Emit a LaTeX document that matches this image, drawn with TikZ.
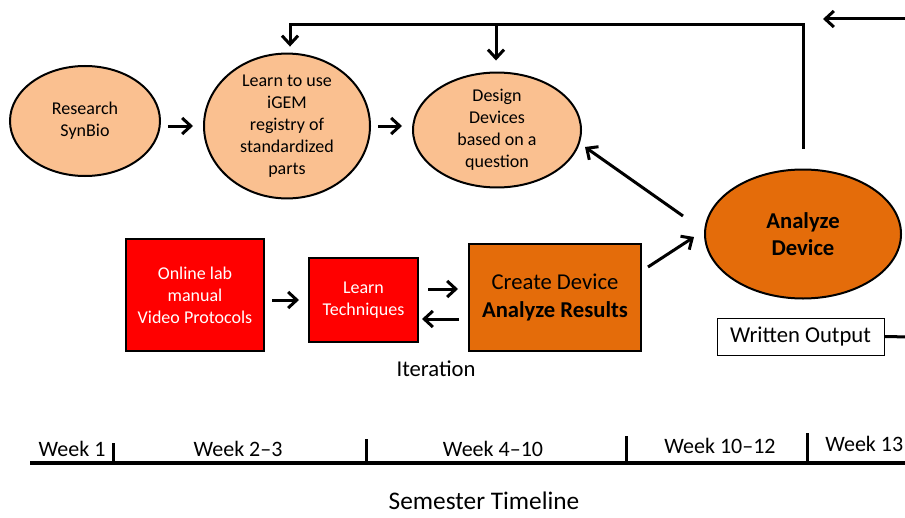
\documentclass[tikz,border=0pt]{standalone}
\usepackage{fontspec}
\setmainfont{Carlito}
\usetikzlibrary{shapes.geometric,arrows.meta}
\definecolor{lightor}{HTML}{FAC090}
\definecolor{darkor}{HTML}{E46C0A}
\definecolor{redbox}{HTML}{FF0000}
\begin{document}
\begin{tikzpicture}[x=0.75pt,y=-0.75pt,
  ell/.style={ellipse, draw, line width=1.5pt, fill=lightor, inner sep=0pt, align=center,
    font=\fontsize{13.5}{16.5}\selectfont},
  rbox/.style={rectangle, draw, line width=1.5pt, fill=redbox, text=white, inner sep=0pt,
    align=center, font=\fontsize{13.5}{16.5}\selectfont},
  obox/.style={rectangle, draw, line width=1.5pt, fill=darkor, inner sep=0pt,
    align=center, font=\fontsize{17}{21}\selectfont},
  arr/.style={line width=2.25pt, -{Straight Barb[length=6.5pt,width=12pt]}},
  plain/.style={line width=2.25pt},
  lbl/.style={inner sep=0pt, font=\fontsize{16.5}{20}\selectfont}
]
\clip (0,0) rectangle (905,517);
\fill[white] (0,0) rectangle (905,517);

% ellipses
\node[ell, minimum width=112.5pt, minimum height=82.5pt] (research) at (85,121) {Research\\SynBio};
\node[ell, minimum width=124.5pt, minimum height=94.5pt] (learn) at (287,126) {Learn to use\\iGEM\\registry of\\standardized\\parts};
\node[ell, minimum width=126pt, minimum height=77.25pt] (design) at (497,130) {Design\\Devices\\based on a\\question};
\node[ell, fill=darkor, minimum width=147pt, minimum height=96.75pt,
  font=\bfseries\fontsize{17}{20.25}\selectfont] (analyze) at (803,234) {Analyze\\Device};

% boxes
\node[rbox, minimum width=103.5pt, minimum height=84pt] (online) at (195,295) {Online lab\\manual\\Video Protocols};
\node[rbox, minimum width=81.75pt, minimum height=63pt] (tech) at (363.5,300) {Learn\\Techniques};
\node[obox, minimum width=129pt, minimum height=80.25pt] (create) at (555,297.5) {Create Device\\\textbf{Analyze Results}};
\node[draw, line width=0.75pt, fill=white, minimum width=125.25pt, minimum height=27.75pt,
  inner sep=0pt, font=\fontsize{17}{20}\selectfont] (written) at (800.5,336.5) {Written Output};
\node[lbl, font=\fontsize{17}{20}\selectfont] (iter) at (436,369) {Iteration};

% horizontal arrows
\draw[arr, shorten <=5.25pt, shorten >=7.5pt] (research.east |- 0,126) -- (learn.west |- 0,126);
\draw[arr, shorten <=5.25pt, shorten >=7.5pt] (learn.east |- 0,126) -- (design.west |- 0,126);
\draw[arr, shorten <=5.25pt, shorten >=6.75pt] (online.east |- 0,300) -- (tech.west |- 0,300);
\draw[arr, shorten <=6.75pt, shorten >=7.5pt] (tech.east |- 0,289) -- (create.west |- 0,289);
\draw[arr, shorten <=6.75pt, shorten >=2.25pt] (create.west |- 0,319) -- (tech.east |- 0,319);

% feedback loop on top
\coordinate (tr) at (803,25);
\coordinate (tl) at (290,25);
\coordinate (tm) at (496,25);
\draw[arr, shorten <=15pt, shorten >=4.5pt] (analyze.north) -- (tr) -- (tl) -- (tl |- learn.north);
\draw[arr, shorten >=8.25pt] (tm) -- (tm |- design.north);
\coordinate (inS) at (910,19);
\coordinate (inE) at (823,19);
\draw[arr] (inS) -- (inE);

% diagonal arrows
\coordinate (d1) at (683,216);
\coordinate (d2) at (585,147);
\draw[arr] (d1) -- (d2);
\coordinate (c1) at (648,267);
\coordinate (c2) at (694,237);
\draw[arr] (c1) -- (c2);

% written output line
\coordinate (wR) at (910,337);
\draw[plain] (written.east) -- (wR);

% timeline
\coordinate (tlL) at (30,463);
\coordinate (tlR) at (910,463);
\draw[line width=3pt] (tlL) -- (tlR);
\foreach \x/\yt in {113/443,366/439,626/436,807/433}
  \draw[plain] (\x,\yt) -- (\x,462);
\node[lbl] (w1) at (72,449) {Week 1};
\node[lbl] (w2) at (238,449) {Week 2–3};
\node[lbl] (w3) at (493,449) {Week 4–10};
\node[lbl] (w4) at (720,446) {Week 10–12};
\node[lbl, anchor=west] (w5) at (825,444) {Week 13};
\node[lbl, font=\fontsize{19}{23}\selectfont] (sem) at (484,501) {Semester Timeline};
\end{tikzpicture}
\end{document}
